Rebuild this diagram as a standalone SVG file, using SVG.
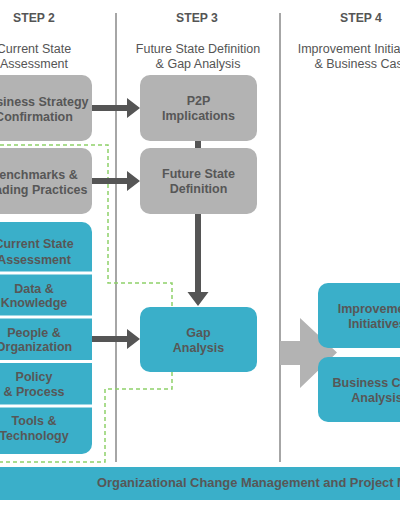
<svg xmlns="http://www.w3.org/2000/svg" width="400" height="516" viewBox="0 0 400 516">
<style>
.hdr{font-family:"Liberation Sans",Arial,sans-serif;font-size:12.2px;font-weight:bold;fill:#555;text-anchor:middle}
.sub{font-family:"Liberation Sans",Arial,sans-serif;font-size:12.5px;fill:#555;text-anchor:middle}
.lbl{font-family:"Liberation Sans",Arial,sans-serif;font-size:12.5px;font-weight:bold;fill:#575757;text-anchor:middle}
.gray{fill:#b3b3b3}
.blue{fill:#3aafc9}
.div{stroke:#a6a6a6;stroke-width:2}
.arr{fill:#555}
.dash{fill:none;stroke:#8fd16a;stroke-width:1.5;stroke-dasharray:4 3}
</style>
<rect width="400" height="516" fill="#fff"/>
<g id="headers">
<text class="hdr" x="34" y="22">STEP 2</text>
<text class="hdr" x="197" y="22">STEP 3</text>
<text class="hdr" x="361" y="22">STEP 4</text>
<text class="sub" x="34" y="53">Current State</text>
<text class="sub" x="34" y="68">Assessment</text>
<text class="sub" x="198" y="53">Future State Definition</text>
<text class="sub" x="198" y="68">&amp; Gap Analysis</text>
<text class="sub" x="362" y="53">Improvement Initiatives</text>
<text class="sub" x="362" y="68">&amp; Business Case</text>
</g>
<g id="dividers">
<line class="div" x1="116" y1="13" x2="116" y2="462"/>
<line class="div" x1="280" y1="13" x2="280" y2="462"/>
</g>
<g id="scope-boundary">
<path class="dash" d="M0,145 H108 V283 H172 V389 H105 V462 H0"/>
</g>
<g id="connectors">
<path class="arr" d="M92,105 H127 V98 L140,108 L127,118 V111 H92 Z"/>
<path class="arr" d="M92,178 H127 V171 L140,181 L127,191 V184 H92 Z"/>
<path class="arr" d="M92,336 H127 V329 L140,339 L127,349 V342 H92 Z"/>
<path class="arr" d="M195,141 H201 V292 H208.5 L198,306 L187.5,292 H195 Z"/>
<path fill="#b3b3b3" d="M280,341 H300 V318 L337,352.5 L300,388 V365 H280 Z"/>
</g>
<g id="business-strategy">
<rect class="gray" x="-25" y="75" width="117" height="66" rx="10"/>
<text class="lbl" x="34" y="106">Business Strategy</text>
<text class="lbl" x="34" y="121">Confirmation</text>
</g>
<g id="benchmarks">
<rect class="gray" x="-25" y="148" width="117" height="66" rx="10"/>
<text class="lbl" x="34" y="179">Benchmarks &amp;</text>
<text class="lbl" x="34" y="194">Leading Practices</text>
</g>
<g id="current-state-stack">
<rect class="blue" x="-25" y="222" width="117" height="232" rx="10"/>
<g stroke="#fff" stroke-width="3">
<line x1="-25" y1="273" x2="92" y2="273"/>
<line x1="-25" y1="317" x2="92" y2="317"/>
<line x1="-25" y1="361.5" x2="92" y2="361.5"/>
<line x1="-25" y1="406" x2="92" y2="406"/>
</g>
</g>
<g id="current-state-assessment">
<text class="lbl" x="34" y="248">Current State</text>
<text class="lbl" x="34" y="264">Assessment</text>
</g>
<g id="data-knowledge">
<text class="lbl" x="34" y="293">Data &amp;</text>
<text class="lbl" x="34" y="307">Knowledge</text>
</g>
<g id="people-organization">
<text class="lbl" x="34" y="337">People &amp;</text>
<text class="lbl" x="34" y="351">Organization</text>
</g>
<g id="policy-process">
<text class="lbl" x="34" y="381">Policy</text>
<text class="lbl" x="34" y="396">&amp; Process</text>
</g>
<g id="tools-technology">
<text class="lbl" x="34" y="425">Tools &amp;</text>
<text class="lbl" x="34" y="440">Technology</text>
</g>
<g id="p2p-implications">
<rect class="gray" x="140" y="75" width="117" height="66" rx="10"/>
<text class="lbl" x="198.5" y="105">P2P</text>
<text class="lbl" x="198.5" y="120">Implications</text>
</g>
<g id="future-state-definition">
<rect class="gray" x="140" y="148" width="117" height="66" rx="10"/>
<text class="lbl" x="198.5" y="178">Future State</text>
<text class="lbl" x="198.5" y="193">Definition</text>
</g>
<g id="gap-analysis">
<rect class="blue" x="140" y="307" width="117" height="65" rx="10"/>
<text class="lbl" x="198.5" y="337">Gap</text>
<text class="lbl" x="198.5" y="352">Analysis</text>
</g>
<g id="improvement-initiatives">
<rect class="blue" x="318" y="283" width="117" height="65" rx="10"/>
<text class="lbl" x="377" y="313">Improvement</text>
<text class="lbl" x="377" y="328">Initiatives</text>
</g>
<g id="business-case">
<rect class="blue" x="318" y="357" width="117" height="65" rx="10"/>
<text class="lbl" x="377" y="387">Business Case</text>
<text class="lbl" x="377" y="402">Analysis</text>
</g>
<g id="ocm-bar">
<rect class="blue" x="-10" y="467" width="420" height="33"/>
<text class="lbl" x="97" y="487" style="text-anchor:start;font-size:12.9px">Organizational Change Management and Project Management</text>
</g>
</svg>
